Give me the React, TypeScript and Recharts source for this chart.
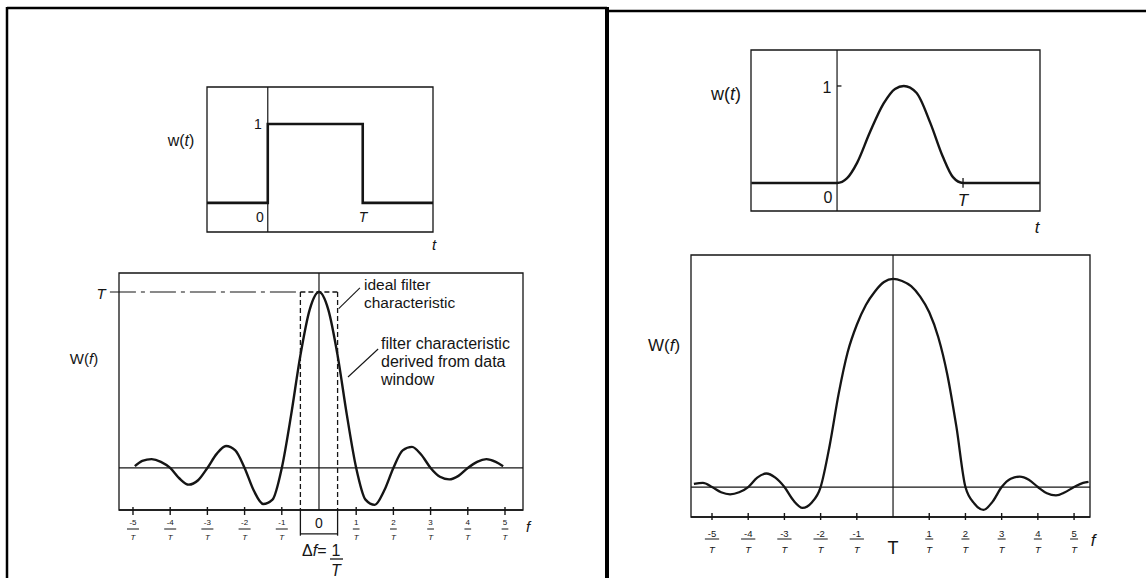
import React from "react";
import { LineChart, Line, XAxis, YAxis, ReferenceLine, ReferenceArea } from "recharts";

const INK = "#151515";
const FONT = '"Liberation Sans", Arial, Helvetica, sans-serif';

// rectangular data window w(t), t in units of T
const boxT = [-0.64, 0, 0, 1, 1, 1.74];
const boxW = [0, 0, 1, 1, 0, 0];

// filter characteristic of the rectangular window, f in units of 1/T, W in units of T
const boxF = [-4.95, -4.75, -4.5, -4.25, -4, -3.75, -3.5, -3.25, -3, -2.75, -2.5, -2.25, -2, -1.75, -1.5, -1.25, -1, -0.75, -0.5, -0.25, 0, 0.25, 0.5, 0.75, 1, 1.25, 1.5, 1.75, 2, 2.25, 2.5, 2.75, 3, 3.25, 3.5, 3.75, 4, 4.25, 4.5, 4.75, 4.95];
const boxSpec = [0.01, 0.04, 0.05, 0.035, 0, -0.06, -0.095, -0.07, 0, 0.08, 0.125, 0.1, 0, -0.13, -0.205, -0.18, 0, 0.3, 0.64, 0.9, 1, 0.9, 0.64, 0.3, 0, -0.18, -0.21, -0.13, 0, 0.1, 0.12, 0.075, 0, -0.05, -0.065, -0.045, 0, 0.035, 0.05, 0.035, 0.01];

// smooth (bell shaped) data window
const bellT = [-0.68, 0, 0.08, 0.16, 0.26, 0.37, 0.46, 0.53, 0.63, 0.74, 0.84, 0.92, 1, 1.61];
const bellW = [0, 0, 0.05, 0.21, 0.52, 0.82, 0.97, 1, 0.93, 0.62, 0.27, 0.06, 0, 0];

// its filter characteristic
const bellF = [-5.5, -5.25, -5, -4.75, -4.5, -4.25, -4, -3.75, -3.5, -3.25, -3, -2.75, -2.5, -2.25, -2, -1.75, -1.5, -1.25, -1, -0.75, -0.5, -0.25, 0, 0.25, 0.5, 0.75, 1, 1.25, 1.5, 1.75, 2, 2.25, 2.5, 2.75, 3, 3.25, 3.5, 3.75, 4, 4.25, 4.5, 4.75, 5, 5.25, 5.4];
const bellSpec = [0.015, 0.02, 0, -0.025, -0.035, -0.025, 0, 0.045, 0.065, 0.045, 0, -0.065, -0.1, -0.075, 0, 0.2, 0.45, 0.65, 0.78, 0.875, 0.94, 0.985, 1, 0.99, 0.965, 0.915, 0.84, 0.72, 0.54, 0.29, 0, -0.08, -0.11, -0.07, 0, 0.04, 0.05, 0.035, 0, -0.03, -0.04, -0.025, 0, 0.02, 0.025];

// tick numerators (k/T), 0 gets a special label
const freqTicks = [-5, -4, -3, -2, -1, 0, 1, 2, 3, 4, 5];

const at = (x: number, y: number) => ({ position: "absolute" as const, left: x, top: y });

type TickOpts = { fs: number; num: number; bar: number; den: number; up: number; down: number; centre: string; centreDy: number; centreFs: number; centreItalic: boolean };

const fracTick = (o: TickOpts) => (props: any) => {
  const { x, y, payload } = props;
  const v = payload.value as number;
  if (v === 0) {
    return (
      <text x={x} y={y + o.centreDy} textAnchor="middle" dominantBaseline="central" fontSize={o.centreFs} fontStyle={o.centreItalic ? "italic" : "normal"} fill={INK} fontFamily={FONT}>
        {o.centre}
      </text>
    );
  }
  const half = v < 0 ? o.fs * 0.75 : o.fs * 0.42;
  return (
    <g>
      <line x1={x} y1={y - o.up} x2={x} y2={y + o.down} stroke={INK} strokeWidth={1.4} />
      <text x={x} y={y + o.num} textAnchor="middle" dominantBaseline="central" fontSize={o.fs} fill={INK} fontFamily={FONT}>
        {v < 0 ? `-${-v}` : `${v}`}
      </text>
      <line x1={x - half} y1={y + o.bar} x2={x + half} y2={y + o.bar} stroke={INK} strokeWidth={1} />
      <text x={x} y={y + o.den} textAnchor="middle" dominantBaseline="central" fontSize={o.fs} fontStyle="italic" fill={INK} fontFamily={FONT}>
        T
      </text>
    </g>
  );
};

const leftTick = fracTick({ fs: 8, num: 12.5, bar: 19, den: 27, up: 3, down: 5, centre: "0", centreDy: 13, centreFs: 14, centreItalic: false });
const rightTick = fracTick({ fs: 9.5, num: 16, bar: 22, den: 32, up: 4, down: 3, centre: "T", centreDy: 31, centreFs: 18, centreItalic: false });

function BoxWindow() {
  const data = boxT.map((t, i) => ({ t, w: boxW[i] }));
  return (
    <div style={at(150, 60)}>
      <LineChart width={310} height={200} data={data} margin={{ top: 27, right: 27, bottom: 28, left: 57 }}>
        <XAxis dataKey="t" type="number" domain={[-0.64, 1.74]} hide allowDataOverflow />
        <YAxis type="number" domain={[-0.37, 1.47]} hide allowDataOverflow />
        <ReferenceArea x1={-0.64} x2={1.74} y1={-0.37} y2={1.47} fill="none" stroke={INK} strokeWidth={1.3} />
        <ReferenceLine x={0} stroke={INK} strokeWidth={1.2} />
        <Line dataKey="w" type="linear" stroke={INK} strokeWidth={2.6} dot={false} isAnimationActive={false} />
      </LineChart>
    </div>
  );
}

function BoxSpectrum() {
  const data = boxF.map((f, i) => ({ f, W: boxSpec[i] }));
  const dash = { stroke: INK, strokeWidth: 1.3, strokeDasharray: "5 3", ifOverflow: "visible" as const };
  return (
    <div style={at(60, 260)}>
      <LineChart width={500} height={318} data={data} margin={{ top: 13, right: 37, bottom: 18, left: 59 }}>
        <XAxis dataKey="f" type="number" domain={[-5.376, 5.484]} ticks={freqTicks} interval={0} tickLine={false} tickSize={0} tickMargin={0} height={50} axisLine={{ stroke: INK, strokeWidth: 1.3 }} tick={leftTick} allowDataOverflow />
        <YAxis type="number" domain={[-0.239, 1.108]} hide allowDataOverflow />
        <ReferenceArea x1={-5.376} x2={5.484} y1={-0.239} y2={1.108} fill="none" stroke={INK} strokeWidth={1.3} />
        <ReferenceLine y={0} stroke={INK} strokeWidth={1.2} />
        <ReferenceLine x={0} stroke={INK} strokeWidth={1.2} />
        {/* ideal filter: level T, width 1/T */}
        <ReferenceLine segment={[{ x: -5.62, y: 1 }, { x: -0.5, y: 1 }]} stroke={INK} strokeWidth={1.2} strokeDasharray="26 5 4 5" ifOverflow="visible" />
        <ReferenceLine segment={[{ x: -0.5, y: 1 }, { x: 0.5, y: 1 }]} {...dash} />
        <ReferenceLine segment={[{ x: -0.5, y: 1 }, { x: -0.5, y: -0.239 }]} {...dash} />
        <ReferenceLine segment={[{ x: 0.5, y: 1 }, { x: 0.5, y: -0.239 }]} {...dash} />
        <ReferenceLine segment={[{ x: -0.5, y: -0.239 }, { x: -0.5, y: -0.385 }]} stroke={INK} strokeWidth={1.3} ifOverflow="visible" />
        <ReferenceLine segment={[{ x: 0.5, y: -0.239 }, { x: 0.5, y: -0.385 }]} stroke={INK} strokeWidth={1.3} ifOverflow="visible" />
        <ReferenceLine segment={[{ x: -0.5, y: -0.375 }, { x: 0.5, y: -0.375 }]} stroke={INK} strokeWidth={1.2} ifOverflow="visible" />
        {/* leader lines of the notes */}
        <ReferenceLine segment={[{ x: 1.1, y: 1.023 }, { x: 0.53, y: 0.905 }]} stroke={INK} strokeWidth={1.1} ifOverflow="visible" />
        <ReferenceLine segment={[{ x: 1.59, y: 0.676 }, { x: 0.78, y: 0.517 }]} stroke={INK} strokeWidth={1.1} ifOverflow="visible" />
        <Line dataKey="W" type="monotone" stroke={INK} strokeWidth={2.4} dot={false} isAnimationActive={false} />
      </LineChart>
    </div>
  );
}

function BellWindow() {
  const data = bellT.map((t, i) => ({ t, w: bellW[i] }));
  return (
    <div style={at(690, 30)}>
      <LineChart width={370} height={200} data={data} margin={{ top: 20, right: 20, bottom: 19, left: 61 }}>
        <XAxis dataKey="t" type="number" domain={[-0.683, 1.611]} hide allowDataOverflow />
        <YAxis type="number" domain={[-0.289, 1.371]} hide allowDataOverflow />
        <ReferenceArea x1={-0.683} x2={1.611} y1={-0.289} y2={1.371} fill="none" stroke={INK} strokeWidth={1.3} />
        <ReferenceLine x={0} stroke={INK} strokeWidth={1.2} />
        <ReferenceLine segment={[{ x: 0, y: 1 }, { x: 0.035, y: 1 }]} stroke={INK} strokeWidth={1.3} />
        <ReferenceLine segment={[{ x: 1, y: -0.05 }, { x: 1, y: 0.05 }]} stroke={INK} strokeWidth={1.3} />
        <Line dataKey="w" type="monotone" stroke={INK} strokeWidth={2.4} dot={false} isAnimationActive={false} />
      </LineChart>
    </div>
  );
}

function BellSpectrum() {
  const data = bellF.map((f, i) => ({ f, W: bellSpec[i] }));
  return (
    <div style={at(630, 240)}>
      <LineChart width={480} height={338} data={data} margin={{ top: 15, right: 20, bottom: 11, left: 61 }}>
        <XAxis dataKey="f" type="number" domain={[-5.58, 5.44]} ticks={freqTicks} interval={0} tickLine={false} tickSize={0} tickMargin={0} height={50} axisLine={{ stroke: INK, strokeWidth: 1.3 }} tick={rightTick} allowDataOverflow />
        <YAxis type="number" domain={[-0.144, 1.115]} hide allowDataOverflow />
        <ReferenceArea x1={-5.58} x2={5.44} y1={-0.144} y2={1.115} fill="none" stroke={INK} strokeWidth={1.3} />
        <ReferenceLine y={0} stroke={INK} strokeWidth={1.2} />
        <ReferenceLine x={0} stroke={INK} strokeWidth={1.2} />
        <Line dataKey="W" type="monotone" stroke={INK} strokeWidth={2.3} dot={false} isAnimationActive={false} />
      </LineChart>
    </div>
  );
}

function T(p: { x: number; y: number; s: number; i?: boolean; a?: "start" | "middle" | "end"; children: React.ReactNode }) {
  return (
    <text x={p.x} y={p.y} fontSize={p.s} fontStyle={p.i ? "italic" : "normal"} textAnchor={p.a ?? "middle"} dominantBaseline="central" fill={INK} fontFamily={FONT}>
      {p.children}
    </text>
  );
}

function Overlay() {
  return (
    <svg width={1146} height={578} style={{ position: "absolute", left: 0, top: 0, pointerEvents: "none" }}>
      {/* page frames */}
      <line x1={7} y1={8} x2={607} y2={8} stroke="#000" strokeWidth={2.5} />
      <line x1={7} y1={7} x2={7} y2={578} stroke="#000" strokeWidth={2.5} />
      <line x1={607} y1={7} x2={607} y2={578} stroke="#000" strokeWidth={4} />
      <line x1={607} y1={11} x2={1146} y2={11} stroke="#000" strokeWidth={2.5} />

      {/* left, data window */}
      <T x={181} y={140} s={16}>w(<tspan fontStyle="italic">t</tspan>)</T>
      <T x={258} y={124} s={14}>1</T>
      <T x={260} y={217} s={14}>0</T>
      <T x={363} y={217} s={14} i>T</T>
      <T x={434} y={244} s={15} i>t</T>

      {/* left, filter characteristic */}
      <T x={101} y={293} s={15} i>T</T>
      <T x={84} y={358} s={15}>W(<tspan fontStyle="italic">f</tspan>)</T>
      <T x={364} y={284} s={15.5} a="start">ideal filter</T>
      <T x={364} y={302} s={15.5} a="start">characteristic</T>
      <T x={381} y={343} s={16} a="start">filter characteristic</T>
      <T x={381} y={361} s={16} a="start">derived from data</T>
      <T x={381} y={379} s={16} a="start">window</T>
      <T x={528} y={526} s={15} i>f</T>
      <T x={302} y={550} s={16} a="start">Δ<tspan fontStyle="italic">f</tspan>=</T>
      <T x={336} y={550} s={16}>1</T>
      <line x1={330} y1={559} x2={343} y2={559} stroke={INK} strokeWidth={1.3} />
      <T x={336} y={570} s={16} i>T</T>

      {/* right, data window */}
      <T x={726} y={94} s={18}>w(<tspan fontStyle="italic">t</tspan>)</T>
      <T x={827} y={87} s={16}>1</T>
      <T x={828} y={197} s={16}>0</T>
      <T x={963} y={200} s={17} i>T</T>
      <T x={1037} y={227} s={17} i>t</T>

      {/* right, filter characteristic */}
      <T x={664} y={345} s={17}>W(<tspan fontStyle="italic">f</tspan>)</T>
      <T x={1093} y={540} s={17} i>f</T>
    </svg>
  );
}

export default function App() {
  return (
    <div style={{ position: "absolute", left: 0, top: 0, width: 1146, height: 578, background: "#fff", overflow: "hidden", fontFamily: FONT }}>
      <BoxWindow />
      <BoxSpectrum />
      <BellWindow />
      <BellSpectrum />
      <Overlay />
    </div>
  );
}
